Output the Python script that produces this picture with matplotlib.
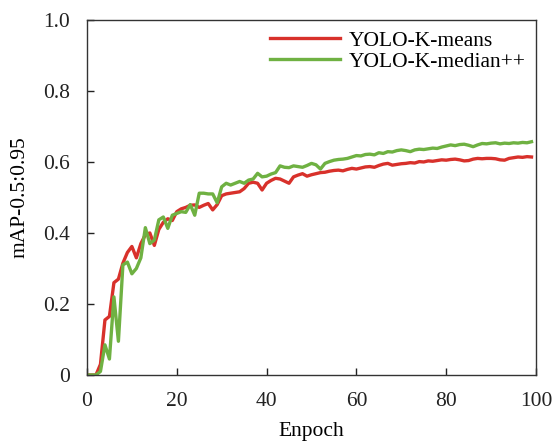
import matplotlib
matplotlib.use("Agg")
import matplotlib.pyplot as plt
import numpy as np

epochs = list(range(100))

kmeans = [0, 0, 0, 0.03, 0.155, 0.165, 0.26, 0.27, 0.315, 0.345,
          0.362, 0.33, 0.37, 0.395, 0.40, 0.365, 0.41, 0.43, 0.44, 0.435,
          0.46, 0.468, 0.472, 0.478, 0.479, 0.472, 0.478, 0.483, 0.465, 0.48,
          0.505, 0.51, 0.512, 0.514, 0.516, 0.525, 0.54, 0.543, 0.54, 0.521,
          0.54, 0.548, 0.554, 0.552, 0.546, 0.54, 0.558, 0.563, 0.567, 0.56,
          0.564, 0.567, 0.57, 0.571, 0.574, 0.576, 0.577, 0.575, 0.579, 0.582,
          0.58, 0.583, 0.586, 0.587, 0.585, 0.59, 0.594, 0.596, 0.591, 0.593,
          0.595, 0.596, 0.598, 0.597, 0.601, 0.60, 0.603, 0.602, 0.604, 0.606,
          0.605, 0.607, 0.608, 0.606, 0.603, 0.604, 0.608, 0.61, 0.609, 0.61,
          0.61, 0.609, 0.606, 0.605, 0.61, 0.612, 0.614, 0.613, 0.615, 0.614]

kmedian = [0, 0, 0, 0.01, 0.085, 0.045, 0.22, 0.095, 0.31, 0.318,
           0.285, 0.30, 0.33, 0.415, 0.37, 0.38, 0.437, 0.445, 0.413, 0.45,
           0.455, 0.46, 0.458, 0.48, 0.45, 0.512, 0.512, 0.51, 0.51, 0.485,
           0.53, 0.54, 0.535, 0.54, 0.545, 0.54, 0.549, 0.552, 0.568, 0.558,
           0.56, 0.566, 0.57, 0.589, 0.585, 0.584, 0.589, 0.587, 0.585, 0.59,
           0.596, 0.592, 0.58, 0.596, 0.601, 0.605, 0.607, 0.608, 0.61, 0.614,
           0.618, 0.617, 0.621, 0.622, 0.62, 0.626, 0.624, 0.629, 0.628, 0.632,
           0.634, 0.632, 0.629, 0.634, 0.636, 0.635, 0.637, 0.639, 0.638, 0.642,
           0.645, 0.648, 0.646, 0.649, 0.65, 0.647, 0.643, 0.648, 0.652, 0.651,
           0.653, 0.654, 0.651, 0.653, 0.652, 0.654, 0.653, 0.655, 0.654, 0.657]

labels = ["YOLO-K-means", "YOLO-K-median++"]
xticks = [0, 20, 40, 60, 80, 100]
yticks = [0, 0.2, 0.4, 0.6, 0.8, 1.0]
yticklabels = ["0", "0.2", "0.4", "0.6", "0.8", "1.0"]

plt.rcParams['font.family'] = ['Liberation Serif', 'DejaVu Serif']
fs = 15.5
plt.rcParams['font.size'] = fs

fig = plt.figure(figsize=(5.54, 4.43), dpi=100)
ax = fig.add_axes([0.157, 0.1535, 0.8105, 0.8015])

ax.plot(epochs, kmeans, color="#d8312b", lw=2.4, label=labels[0])
ax.plot(epochs, kmedian, color="#6fb142", lw=2.4, label=labels[1])

ax.set_xlim(0, 100)
ax.set_ylim(0, 1.0)
ax.set_xticks(xticks)
ax.set_yticks(yticks)
ax.set_yticklabels(yticklabels)
ax.tick_params(direction="in", length=5, width=1, colors="#222222", labelsize=fs, pad=12)
for s in ax.spines.values():
    s.set_color("#333333")
    s.set_linewidth(1.0)

ax.set_xlabel("Enpoch", fontsize=fs, labelpad=8)
ax.set_ylabel("mAP-0.5:0.95", fontsize=fs, labelpad=10)

ax.legend(loc="upper right", frameon=False, fontsize=fs, handlelength=3.25,
          handletextpad=0.4, labelspacing=0.05, borderaxespad=0.15, borderpad=0.35)

fig.savefig("out.png", dpi=100)
